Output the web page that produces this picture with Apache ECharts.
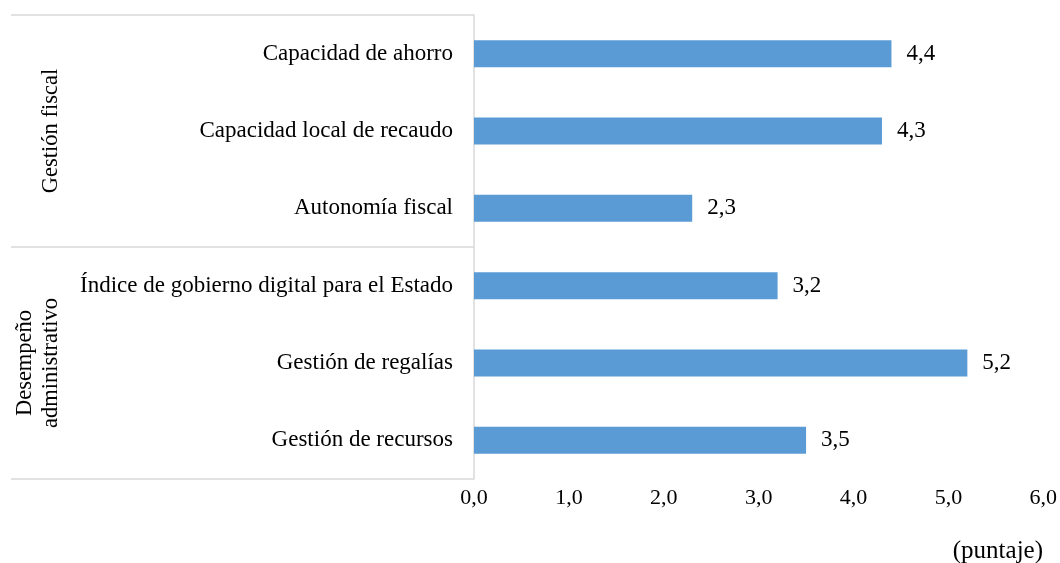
<!DOCTYPE html>
<html><head><meta charset="utf-8">
<script src="https://cdn.jsdelivr.net/npm/echarts@6/dist/echarts.min.js"></script>
<style>html,body{margin:0;padding:0;background:#fff}#c{width:1060px;height:563px}</style>
</head><body><div id="c"></div>
<script>
const categories = ["Capacidad de ahorro","Capacidad local de recaudo","Autonomía fiscal","Índice de gobierno digital para el Estado","Gestión de regalías","Gestión de recursos"];
const values = [4.4, 4.3, 2.3, 3.2, 5.2, 3.5];
const groups = ["Gestión fiscal", "Desempeño\nadministrativo"];
const unitLabel = "(puntaje)";
const font = "'Liberation Serif', 'Times New Roman', serif";
const fmt = v => v.toFixed(1).replace('.', ',');
const chart = echarts.init(document.getElementById('c'));
chart.setOption({
  animation: false,
  textStyle: {fontFamily: font},
  title: {text: unitLabel, right: 12, top: 534, textStyle: {fontFamily: font, fontSize: 25, fontWeight: 'normal', color: '#000'}},
  grid: {left: 474, right: 12, top: 15, bottom: 84},
  xAxis: {type: 'value', min: 0, max: 6, interval: 1,
    axisLine: {show: false}, axisTick: {show: false}, splitLine: {show: false},
    axisLabel: {formatter: fmt, fontFamily: font, fontSize: 22, color: '#000', margin: 8}},
  yAxis: [
    {type: 'category', data: categories, inverse: true,
     axisLine: {show: true, lineStyle: {color: '#d9d9d9', width: 1.5}}, axisTick: {show: false},
     axisLabel: {fontFamily: font, fontSize: 23, color: '#000', margin: 21}},
    {type: 'category', data: groups, inverse: true, position: 'left', offset: 0,
     axisLine: {show: false},
     axisTick: {show: true, length: 463, lineStyle: {color: '#d9d9d9', width: 1.5}},
     axisLabel: {rotate: 90, fontFamily: font, fontSize: 22.5, color: '#000', margin: 410, lineHeight: 26}}
  ],
  series: [{type: 'bar', data: values, yAxisIndex: 0, barWidth: 27,
    itemStyle: {color: '#5B9BD5'},
    label: {show: true, position: 'right', distance: 15, formatter: p => fmt(p.value), fontFamily: font, fontSize: 23, color: '#000'}}]
});
</script></body></html>
